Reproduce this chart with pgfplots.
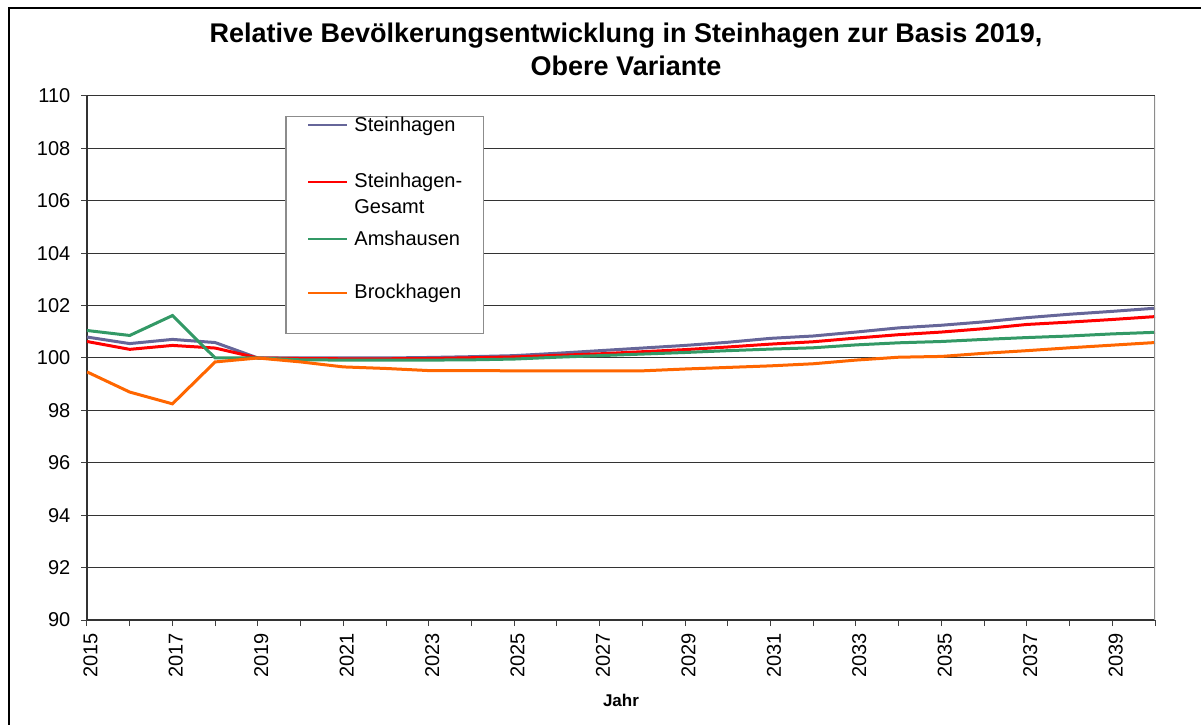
\documentclass[border=0pt]{standalone}
\usepackage{fontspec}
\setmainfont{Liberation Sans}
\usepackage{pgfplots}
\pgfplotsset{compat=1.18}
\definecolor{cP}{HTML}{666699}
\definecolor{cR}{HTML}{FF0000}
\definecolor{cG}{HTML}{339966}
\definecolor{cO}{HTML}{FF6600}
\newcommand\lstrut{\rule[-15pt]{0pt}{22.5pt}}
\newcommand\lstrutlast{\rule[-17.3pt]{0pt}{24.8pt}}
\begin{document}
\begin{tikzpicture}
\begin{axis}[
  scale only axis, width=534pt, height=262pt,
  xmin=2015, xmax=2040, ymin=90, ymax=110,
  xtick={2015,2017,...,2039}, minor xtick={2016,2018,...,2040},
  ytick={90,92,...,110},
  ymajorgrids, grid style={black!80, line width=0.5pt},
  axis x line*=bottom, axis y line*=left,
  axis line style={-, black!80, line width=0.6pt},
  tick align=outside, major tick length=3pt, minor tick length=3pt,
  every tick/.style={black!75, line width=0.5pt},
  /pgf/number format/assume math mode=true,
  /pgf/number format/1000 sep={},
  tick label style={font=\fontsize{10}{12}\selectfont},
  x tick label style={rotate=90, anchor=east, yshift=-1.7pt},
  y tick label style={anchor=east, xshift=-1.8pt},
  xlabel={Jahr},
  xlabel style={at={(axis description cs:0.5,0)}, anchor=center, yshift=-40pt, font=\bfseries\fontsize{8.5}{10}\selectfont},
  legend style={at={(0.1857,0.9624)}, anchor=north west, draw=black!45, line width=0.6pt,
    inner xsep=10.5pt, inner ysep=0pt, row sep=4.2pt, column sep=3pt,
    font=\fontsize{10}{13}\selectfont, nodes={inner sep=0pt, text depth=},
    cells={anchor=base west}},
  legend image code/.code={\path (0pt,0pt); \draw[#1, line width=1pt] (0pt,3pt) -- (19.5pt,3pt);},
]
\addplot[cP, line width=1.5pt] coordinates {
(2015,100.80) (2016,100.55) (2017,100.71) (2018,100.59) (2019,100.00)
(2020,100.00) (2021,100.00) (2022,100.00) (2023,100.02) (2024,100.05)
(2025,100.09) (2026,100.18) (2027,100.28) (2028,100.38) (2029,100.48)
(2030,100.60) (2031,100.75) (2032,100.84) (2033,100.99) (2034,101.15)
(2035,101.25) (2036,101.38) (2037,101.54) (2038,101.67) (2039,101.78)
(2040,101.90)};
\addlegendentry{\lstrut Steinhagen}
\addplot[cR, line width=1.5pt] coordinates {
(2015,100.63) (2016,100.33) (2017,100.48) (2018,100.38) (2019,100.00)
(2020,99.98) (2021,99.97) (2022,99.97) (2023,99.98) (2024,100.01)
(2025,100.04) (2026,100.10) (2027,100.16) (2028,100.24) (2029,100.32)
(2030,100.42) (2031,100.53) (2032,100.62) (2033,100.76) (2034,100.89)
(2035,100.99) (2036,101.12) (2037,101.28) (2038,101.37) (2039,101.47)
(2040,101.58)};
\addlegendentry{\lstrut\begin{tabular}[t]{@{}l@{}}Steinhagen-\\Gesamt\end{tabular}}
\addplot[cG, line width=1.5pt] coordinates {
(2015,101.05) (2016,100.86) (2017,101.62) (2018,100.00) (2019,100.00)
(2020,99.93) (2021,99.92) (2022,99.92) (2023,99.92) (2024,99.93)
(2025,99.96) (2026,100.03) (2027,100.09) (2028,100.15) (2029,100.21)
(2030,100.28) (2031,100.34) (2032,100.39) (2033,100.50) (2034,100.58)
(2035,100.63) (2036,100.71) (2037,100.78) (2038,100.84) (2039,100.92)
(2040,100.98)};
\addlegendentry{\lstrut Amshausen}
\addplot[cO, line width=1.5pt] coordinates {
(2015,99.47) (2016,98.70) (2017,98.25) (2018,99.85) (2019,100.00)
(2020,99.85) (2021,99.66) (2022,99.60) (2023,99.52) (2024,99.52)
(2025,99.51) (2026,99.51) (2027,99.51) (2028,99.51) (2029,99.58)
(2030,99.64) (2031,99.70) (2032,99.78) (2033,99.92) (2034,100.03)
(2035,100.06) (2036,100.18) (2037,100.28) (2038,100.39) (2039,100.49)
(2040,100.59)};
\addlegendentry{\lstrutlast Brockhagen}
\draw[black!45, line width=0.6pt] (rel axis cs:1,0) -- (rel axis cs:1,1);
\end{axis}
\node[align=center, font=\bfseries\fontsize{13.5}{16.5}\selectfont] at (269.5pt,285.5pt)
  {Relative Bevölkerungsentwicklung in Steinhagen zur Basis 2019,\\Obere Variante};
\draw[black, line width=0.6pt] (-39pt,-70pt) -- (-39pt,306pt) -- (620pt,306pt);
\pgfresetboundingbox
\useasboundingbox (-43.5pt,-52pt) rectangle (557pt,310pt);
\end{tikzpicture}
\end{document}
